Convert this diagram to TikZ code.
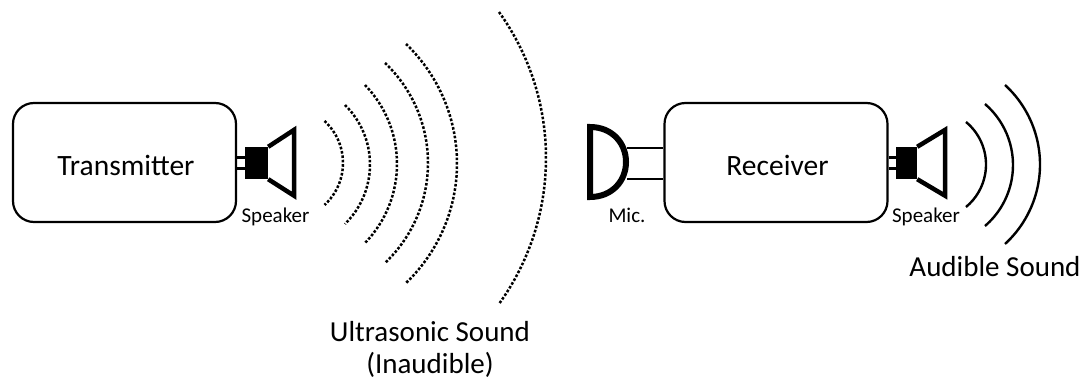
\documentclass[tikz,border=0pt]{standalone}
\usepackage{fontspec}
\setmainfont{Carlito}
\usepackage{xcolor}
\usepackage{tikz}
\usetikzlibrary{calc}
\tikzset{
  box/.style={draw=black, line width=2.2pt, rounded corners=21pt, minimum width=223pt, minimum height=119pt},
  boxlab/.style={inner sep=0pt, xshift=1.5pt, yshift=-3pt, font=\fontsize{29.5}{32}\selectfont},
  wire/.style={draw=black, line width=2.4pt},
  body/.style={fill=black, inner sep=0pt, minimum width=23pt, minimum height=32pt},
  cone/.style={draw=black, line width=4.5pt, miter limit=10},
  mic/.style={draw=black, line width=6pt},
  dotarc/.style={draw=black, line width=2.5pt, dash pattern=on 2.6pt off 1.8pt},
  solidarc/.style={draw=black, line width=2.4pt},
  lab/.style={inner sep=0pt, anchor=base, font=\fontsize{21}{24}\selectfont},
  labbig/.style={inner sep=0pt, align=center, font=\fontsize{29}{32}\selectfont},
}
\begin{document}
\begin{tikzpicture}[x=1pt,y=-1pt]
  \useasboundingbox (0,0) rectangle (1083,379);

  % boxes
  \node[box,label={[boxlab]center:Transmitter}] (tx) at (124.5,162.5) {};
  \node[box,label={[boxlab]center:Receiver}] (rx) at (776,162.5) {};

  % left speaker
  \node[body] (spkA) at (256.5,163) {};
  \draw[cone] (spkA.north east) -- ++(26,-17) -- ++(0,66) -- (spkA.south east);
  \draw[wire] ([yshift=5.5pt]spkA.west) -- ([yshift=5.5pt]spkA.west -| tx.east);
  \draw[wire] ([yshift=-5.5pt]spkA.west) -- ([yshift=-5.5pt]spkA.west -| tx.east);
  \node[lab] (spkAlab) at (275.5,223) {Speaker};

  % right speaker
  \node[body,minimum width=21pt] (spkB) at (906.5,163) {};
  \draw[cone] (spkB.north east) -- ++(28,-17) -- ++(0,66) -- (spkB.south east);
  \draw[wire] ([yshift=5.5pt]spkB.west) -- ([yshift=5.5pt]spkB.west -| rx.east);
  \draw[wire] ([yshift=-5.5pt]spkB.west) -- ([yshift=-5.5pt]spkB.west -| rx.east);
  \node[lab] (spkBlab) at (926,223) {Speaker};

  % microphone
  \coordinate (micA) at (627,148);
  \coordinate (micB) at (627,179);
  \draw[mic] (590,127) .. controls (612,127) and (626,143) .. (626,162) .. controls (626,181) and (612,197) .. (590,197) -- cycle;
  \draw[wire] (micA) -- (micA -| rx.west);
  \draw[wire] (micB) -- (micB -| rx.west);
  \node[lab] (miclab) at (627,223) {Mic.};

  % ultrasonic waves
  \foreach \xa/\ya/\yb/\xm in {324.5/121/205/343, 345/105/224/370, 365/85/243/397, 385/63/263/428, 406/44/283/457, 499/12/304/546} {
    \pgfmathsetmacro\hc{(\yb-\ya)/2}
    \pgfmathsetmacro\sg{\xm-\xa}
    \pgfmathsetmacro\rad{(\hc/\sg*\hc+\sg)/2}
    \pgfmathsetmacro\ang{asin(\hc/\rad)}
    \draw[dotarc] (\xa,\ya) arc[start angle=\ang, delta angle=-2*\ang, radius=\rad pt];
  }

  % audible waves
  \foreach \xa/\ya/\yb/\xm in {966/122/207/986, 985/104/226/1013, 1005/85/244/1040} {
    \pgfmathsetmacro\hc{(\yb-\ya)/2}
    \pgfmathsetmacro\sg{\xm-\xa}
    \pgfmathsetmacro\rad{(\hc/\sg*\hc+\sg)/2}
    \pgfmathsetmacro\ang{asin(\hc/\rad)}
    \draw[solidarc] (\xa,\ya) arc[start angle=\ang, delta angle=-2*\ang, radius=\rad pt];
  }

  \node[labbig] (ultra) at (430,349) {Ultrasonic Sound\\(Inaudible)};
  \node[labbig,anchor=base] (audible) at (995,276) {Audible Sound};
\end{tikzpicture}
\end{document}
